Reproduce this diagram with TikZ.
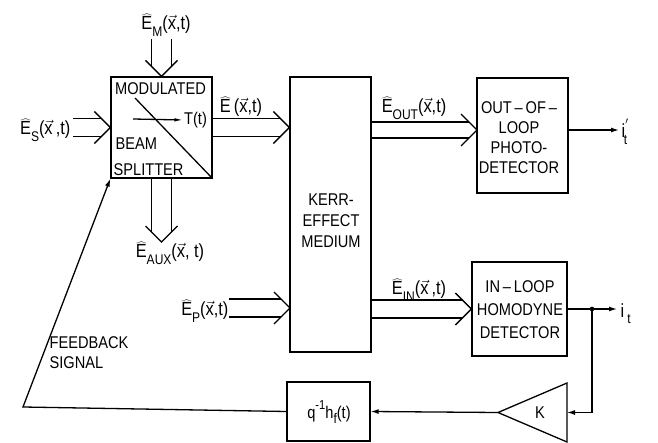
\documentclass[tikz,border=0pt]{standalone}
\usepackage{fontspec}
\setmainfont{Liberation Sans}[FakeStretch=0.86]
\usetikzlibrary{calc,arrows.meta}
\newcommand\sub[1]{\raisebox{-0.32em}{\fontsize{14}{14}\selectfont #1}}
\newcommand\vx{$\vec{\mbox{x}}$}
\newcommand\Eh{$\widehat{\mbox{E}}$}
% horizontal double arrow: [halfgap]{start}{tip}
\newcommand\dblR[3][9]{%
  \draw ($#2+(0,-#1)$) -- ($#3+(-#1,-#1)$);
  \draw ($#2+(0,#1)$) -- ($#3+(-#1,#1)$);
  \draw ($#3+(-16,-16)$) -- #3 -- ($#3+(-16,16)$);}
% vertical (downward) double arrow
\newcommand\dblD[3][10]{%
  \draw ($#2+(-#1,0)$) -- ($#3+(-#1,-#1)$);
  \draw ($#2+(#1,0)$) -- ($#3+(#1,-#1)$);
  \draw ($#3+(-16,-16)$) -- #3 -- ($#3+(16,-16)$);}
\begin{document}
\begin{tikzpicture}[x=1pt,y=-1pt,line width=1.3pt,
  every node/.style={font=\fontsize{17}{20}\selectfont,inner sep=0pt},
  lbl/.style={font=\fontsize{19}{20}\selectfont},
  box/.style={draw,line width=1.3pt},
  tip/.style={-{Latex[length=8pt,width=5pt]}},
  thintip/.style={-{Latex[length=9pt,width=3.5pt]}}]
\useasboundingbox (0,0) rectangle (658,443);

% beam splitter
\node[box,minimum width=101pt,minimum height=101pt] (bs) at (161.5,127.5) {};
\node (mod) at (160.5,89) {MODULATED};
\node[anchor=west] (beam) at (115,144) {BEAM};
\node[anchor=west] (split) at (113,170) {SPLITTER};
\coordinate (d1) at (135,98);
\draw (d1) -- (bs.south east);
\coordinate (a1) at (133,119);
\node[anchor=west] (Tt) at (183.5,120) {T(t)};
\draw[thintip] (a1) -- (Tt.west);

% Kerr medium
\node[box,minimum width=81pt,minimum height=275pt] (kerr) at (330.5,214.5) {};
\node[align=center,font=\fontsize{17}{21}\selectfont] (kerrt) at (331,221) {KERR-\\EFFECT\\MEDIUM};

% out-of-loop detector
\node[box,minimum width=91pt,minimum height=115pt] (ool) at (522.5,135.5) {};
\node[align=center,font=\fontsize{17}{20}\selectfont] (oolt) at (519,138) {OUT\,–\,OF\,–\\LOOP\\PHOTO-\\DETECTOR};

% in-loop detector
\node[box,minimum width=95pt,minimum height=94pt] (il) at (519.5,309) {};
\node[align=center,font=\fontsize{17}{23}\selectfont] (ilt) at (520,310) {IN\,–\,LOOP\\HOMODYNE\\DETECTOR};

% filter box
\node[box,minimum width=83pt,minimum height=59pt] (hb) at (328.5,411.5) {};
\node[anchor=base] (hbt) at (329,418) {q\raisebox{0.5em}{\fontsize{13}{13}\selectfont -1}h\sub{f}(t)};

% amplifier
\coordinate (tr1) at (567,383);
\coordinate (tr2) at (567,442);
\coordinate (trtip) at (498,412.5);
\coordinate (trin) at (567,412.5);
\draw (tr1) -- (tr2) -- (trtip) -- cycle;
\node (K) at (540,413) {K};

% optical double arrows
\coordinate (es) at (73,127.5);
\dblR{(es)}{(bs.west)}
\coordinate (ke) at (kerr.west |- bs.east);
\dblR{(bs.east)}{(ke)}
\coordinate (ko) at (371,130);
\coordinate (oo) at (477,130);
\dblR[8]{(ko)}{(oo)}
\coordinate (ep) at (229,308);
\coordinate (kp) at (290,308);
\dblR{(ep)}{(kp)}
\coordinate (ki) at (kerr.east |- il.west);
\dblR{(ki)}{(il.west)}
\coordinate (em) at (161.5,39);
\dblD{(em)}{(bs.north)}
\coordinate (ea) at (161.5,242);
\dblD{(bs.south)}{(ea)}

% field labels
\node[lbl,anchor=base] (lEM) at (166,30) {\Eh\sub{M}(\vx,t)};
\node[lbl,anchor=base east] (lES) at (71,135) {\Eh\sub{S}(\vx\,,t)};
\node[lbl,anchor=base] (lE) at (241,113) {\Eh\,(\vx,t)};
\node[lbl,anchor=base] (lEO) at (414,113) {\Eh\sub{OUT}(\vx,t)};
\node[lbl,anchor=base] (lEA) at (170,258) {\Eh\sub{AUX}(\vx, t)};
\node[lbl,anchor=base east] (lEP) at (229,316) {\Eh\sub{P}(\vx,t)};
\node[lbl,anchor=base] (lEI) at (419,295) {\Eh\sub{IN}(\vx\,,t)};

% electrical signals
\coordinate (o1) at ($(ool.east)+(0,-5.5)$);
\coordinate (o2) at (619,130);
\draw[tip] (o1) -- (o2);
\node[lbl,anchor=base west] (ipt) at (621,138) {i\raisebox{0.45em}{\fontsize{14}{14}\selectfont$'$}\hspace{-0.25em}\sub{t}};
\coordinate (i2) at (617,309);
\draw[tip] (il.east) -- (i2);
\node[lbl,anchor=base west] (it) at (620,317) {i\,\sub{t}};
\coordinate (dot) at (592,309);
\fill (dot) circle (2.3pt);
\draw[tip] (dot) |- (trin);
\draw[tip] (trtip) -- (hb.east);
\coordinate (fb) at (23,407);
\draw[tip] (hb.west) -- (fb) -- (bs.south west);
\node[anchor=west,align=left,font=\fontsize{17}{20}\selectfont] (fbt) at (49,353) {FEEDBACK\\SIGNAL};
\end{tikzpicture}
\end{document}
